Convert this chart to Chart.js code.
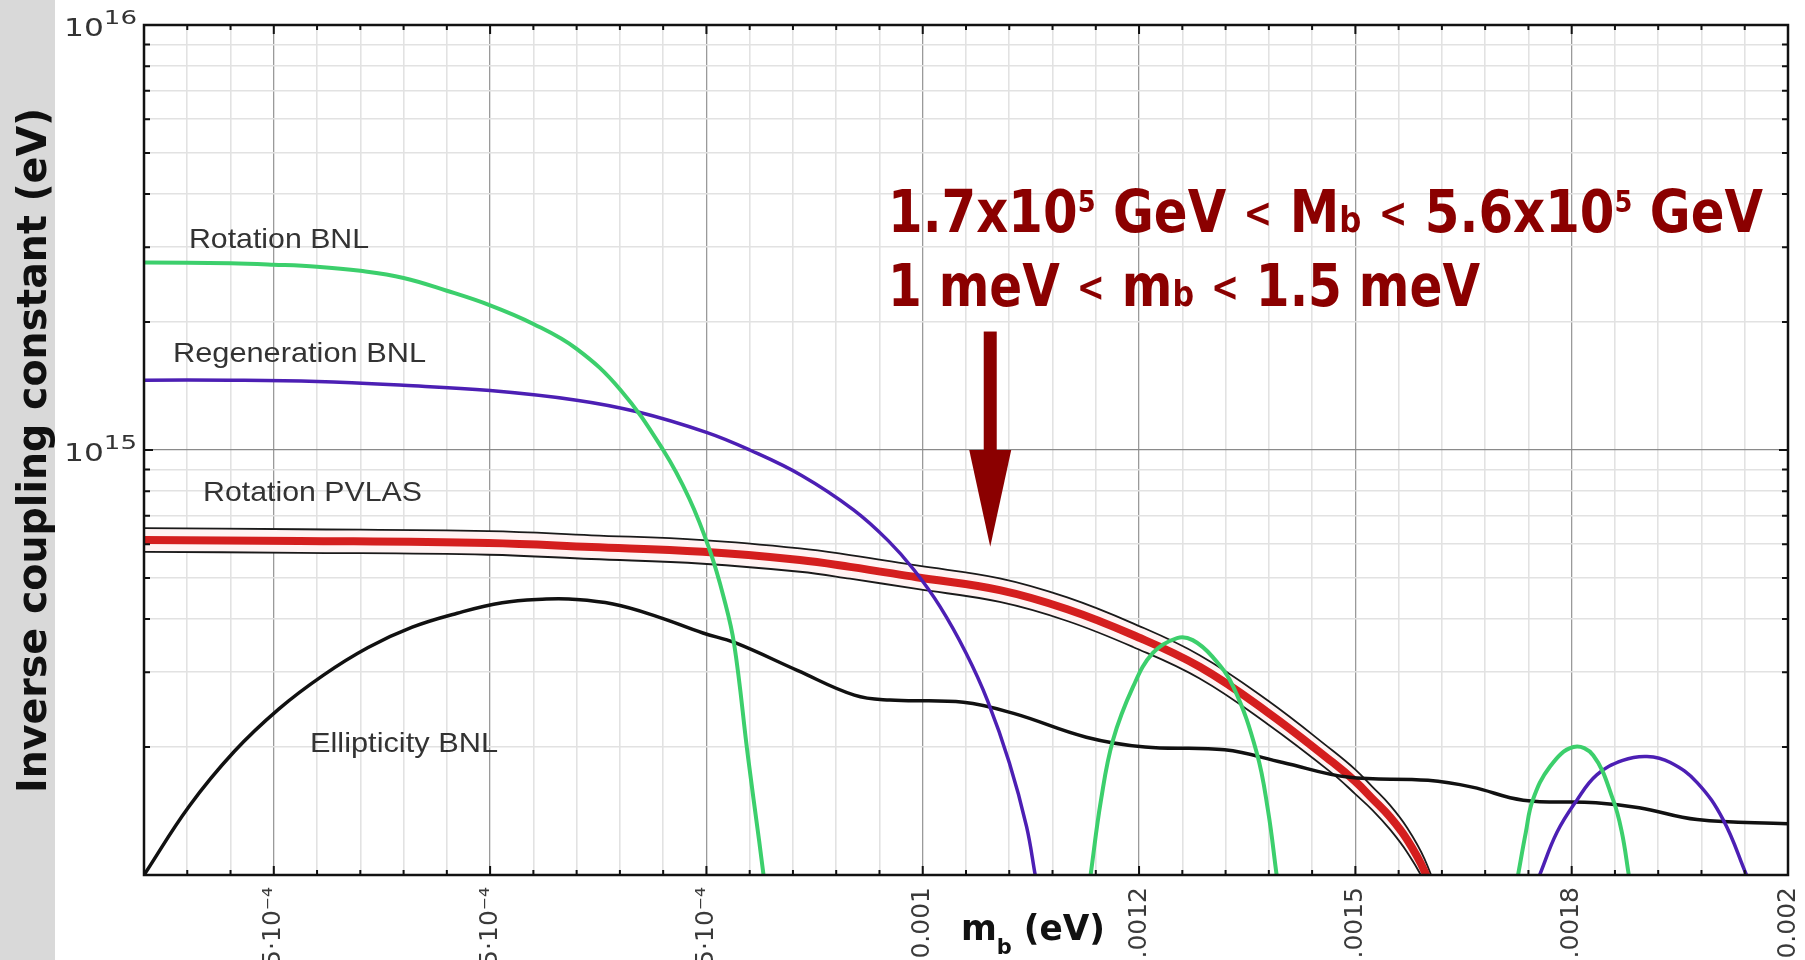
<!DOCTYPE html>
<html lang="en">
<head>
<meta charset="utf-8">
<title>Inverse coupling constant vs m_b</title>
<script src="https://cdn.jsdelivr.net/npm/chart.js@4.4.1/dist/chart.umd.min.js"></script>
<style>
    html, body { margin: 0; padding: 0; background: #ffffff; overflow: hidden; }
    #khungBieuDo { position: relative; width: 1805px; height: 960px; }
</style>
</head>
<body>
<div id="khungBieuDo"><canvas id="bieuDo"></canvas></div>
<script>
// truc x: m_b (eV) tuyen tinh, truc y: Inverse coupling constant (eV) log
const xMin = 0.0001;
const xMax = 0.002;
const yMin = 1e14;
const yMax = 1e16;

const xTickValues = [0.00025, 0.0005, 0.00075, 0.001, 0.00125, 0.0015, 0.00175, 0.002];
const xTickLabels = ['2.5·10⁻⁴', '5·10⁻⁴', '7.5·10⁻⁴', '0.001', '0.0012', '0.0015', '0.0018', '0.002'];
const yTickValues = [1e15, 1e16];
const yTickExponents = ['15', '16'];

const seriesNames = ['Rotation BNL', 'Regeneration BNL', 'Rotation PVLAS', 'Ellipticity BNL'];

// Rotation BNL (xanh la), 3 thuy, null = ngat net
const rotBnlX = [0.0001, 0.0002, 0.00025, 0.0003, 0.00035, 0.0004, 0.00045, 0.0005, 0.00055, 0.0006,
    0.00065, 0.0007, 0.00073, 0.000754, 0.00077, 0.000782, 0.000798, 0.000811, 0.000816,
    0.001,
    0.001194, 0.001206, 0.00122, 0.001243, 0.001266, 0.001294, 0.001312, 0.001335, 0.001359, 0.001386, 0.001399, 0.001409,
    0.00155,
    0.001688, 0.001697, 0.001705, 0.001725, 0.001752, 0.001775, 0.001798, 0.001808, 0.001816];
const rotBnlY = [2.76e15, 2.75e15, 2.73e15, 2.70e15, 2.64e15, 2.54e15, 2.37e15, 2.19e15, 1.98e15, 1.73e15,
    1.39e15, 1.00e15, 7.7e14, 5.8e14, 4.5e14, 3.5e14, 1.9e14, 1.2e14, 1.0e14,
    null,
    1.0e14, 1.50e14, 2.08e14, 2.77e14, 3.33e14, 3.61e14, 3.57e14, 3.26e14, 2.77e14, 1.94e14, 1.42e14, 1.0e14,
    null,
    1.0e14, 1.26e14, 1.50e14, 1.80e14, 2.0e14, 1.91e14, 1.50e14, 1.26e14, 1.0e14];

// Regeneration BNL (tim)
const regenX = [0.0001, 0.0002, 0.0003, 0.0004, 0.0005, 0.0006, 0.00067, 0.00075, 0.0008, 0.00086,
    0.00092, 0.00096, 0.00099, 0.00102, 0.00105, 0.001075, 0.0011, 0.00112, 0.00113,
    0.0014,
    0.001713, 0.001733, 0.001756, 0.001779, 0.001809, 0.001837, 0.001864, 0.001895, 0.001925, 0.001952];
const regenY = [1.46e15, 1.46e15, 1.45e15, 1.42e15, 1.38e15, 1.31e15, 1.23e15, 1.10e15, 1.00e15, 8.71e14,
    7.23e14, 6.12e14, 5.22e14, 4.28e14, 3.33e14, 2.57e14, 1.84e14, 1.30e14, 1.0e14,
    null,
    1.0e14, 1.26e14, 1.50e14, 1.72e14, 1.86e14, 1.90e14, 1.84e14, 1.65e14, 1.35e14, 1.0e14];

// Ellipticity BNL (den)
const ellipX = [0.0001, 0.000152, 0.000204, 0.000256, 0.000307, 0.000359, 0.00041, 0.000462, 0.000514, 0.000565,
    0.000591, 0.000642, 0.000694, 0.000746, 0.000783, 0.000855, 0.000921, 0.000962, 0.001047, 0.001105,
    0.001189, 0.001257, 0.001349, 0.001416, 0.001491, 0.001584, 0.001635, 0.001694, 0.001778, 0.001828,
    0.001895, 0.002];
const ellipY = [1.0e14, 1.45e14, 1.95e14, 2.46e14, 2.95e14, 3.43e14, 3.83e14, 4.13e14, 4.37e14, 4.46e14,
    4.46e14, 4.34e14, 4.05e14, 3.71e14, 3.52e14, 3.03e14, 2.65e14, 2.58e14, 2.55e14, 2.40e14,
    2.11e14, 2.00e14, 1.97e14, 1.84e14, 1.70e14, 1.67e14, 1.61e14, 1.50e14, 1.48e14, 1.44e14,
    1.35e14, 1.32e14];

// Rotation PVLAS (do) va hai bien sai so
const pvlasX = [0.0001, 0.00028, 0.000498, 0.000617, 0.000746, 0.000858, 0.000916, 0.000993, 0.001089, 0.001167,
    0.001243, 0.00132, 0.001398, 0.001474, 0.0015, 0.00152, 0.00154, 0.00156, 0.00158, 0.0016];
const pvlasY = [6.14e14, 6.11e14, 6.04e14, 5.91e14, 5.76e14, 5.51e14, 5.31e14, 5.02e14, 4.68e14, 4.22e14,
    3.67e14, 3.09e14, 2.42e14, 1.84e14, 1.66e14, 1.51e14, 1.37e14, 1.21e14, 1.02e14, 0.79e14];
const pvlasTren = [6.55e14, 6.51e14, 6.44e14, 6.30e14, 6.14e14, 5.87e14, 5.66e14, 5.35e14, 4.99e14, 4.50e14,
    3.91e14, 3.29e14, 2.58e14, 1.96e14, 1.77e14, 1.61e14, 1.46e14, 1.29e14, 1.09e14, 0.85e14];
const pvlasDuoi = [5.76e14, 5.73e14, 5.67e14, 5.54e14, 5.40e14, 5.17e14, 4.98e14, 4.71e14, 4.39e14, 3.96e14,
    3.44e14, 2.90e14, 2.27e14, 1.73e14, 1.55e14, 1.42e14, 1.28e14, 1.13e14, 0.96e14, 0.75e14];

// mui ten (toa do du lieu)
const arrowX = 0.001078;
const arrowTopY = 1.9e15;
const arrowBaseY = 1.0e15;
const arrowTipY = 5.92e14;

// vi tri chu (px): trai, baseline, do rong
const nhanDuong = [
    { text: seriesNames[0], x: 189, y: 248, w: 180 },
    { text: seriesNames[1], x: 173, y: 362, w: 253 },
    { text: seriesNames[2], x: 203, y: 501, w: 219 },
    { text: seriesNames[3], x: 310, y: 752, w: 188 }
];

const luoiX = [];
for (let i = 0; i <= 38; i++) luoiX.push(+(0.0001 + i * 0.00005).toFixed(6));
const luoiY = [];
[14, 15].forEach(e => { for (let m = 1; m <= 9; m++) luoiY.push(m * Math.pow(10, e)); });
luoiY.push(1e16);

function laMocChinhX(v) {
    const k = v / 0.00025;
    return Math.abs(k - Math.round(k)) < 1e-6;
}
function laMocChinhY(v) {
    const k = Math.log10(v);
    return Math.abs(k - Math.round(k)) < 1e-6;
}
function nhanTrucX(v) {
    const i = xTickValues.findIndex(t => Math.abs(t - v) < 1e-9);
    return i >= 0 ? xTickLabels[i] : '';
}
function ghepDiem(xs, ys) {
    return xs.map((x, i) => ({ x: x, y: ys[i] }));
}

// ve chu nhieu doan (chi so tren/duoi), co gian ngang cho dung do rong
function veChuGhep(ctx, parts, x, baseline, width, color) {
    ctx.save();
    let tong = 0;
    parts.forEach(p => { ctx.font = p.font; p.w = ctx.measureText(p.text).width; tong += p.w; });
    ctx.translate(x, baseline);
    ctx.scale(width / tong, 1);
    ctx.fillStyle = color;
    ctx.textAlign = 'left';
    ctx.textBaseline = 'alphabetic';
    let cx = 0;
    parts.forEach(p => {
        ctx.font = p.font;
        ctx.fillText(p.text, cx, p.dy || 0);
        cx += p.w;
    });
    ctx.restore();
}

const fontDo = "'DejaVu Sans', sans-serif";
const fontHep = "'Liberation Sans Narrow', 'DejaVu Sans Condensed', 'Liberation Sans', sans-serif";

const veThem = {
    id: 'veThem',
    beforeDraw(chart) {
        const ctx = chart.ctx;
        ctx.save();
        ctx.fillStyle = '#ffffff';
        ctx.fillRect(0, 0, chart.width, chart.height);
        ctx.fillStyle = '#d9d9d9';
        ctx.fillRect(0, 0, 55, chart.height);
        ctx.restore();
    },
    afterDraw(chart) {
        const ctx = chart.ctx;
        const a = chart.chartArea;
        const sx = chart.scales.x;
        const sy = chart.scales.y;

        // vach chia huong vao trong tren 4 canh + khung
        ctx.save();
        ctx.strokeStyle = '#111';
        ctx.lineWidth = 2;
        sx.ticks.forEach(t => {
            const px = sx.getPixelForValue(t.value);
            const len = laMocChinhX(t.value) ? 9 : 5;
            ctx.beginPath();
            ctx.moveTo(px, a.bottom); ctx.lineTo(px, a.bottom - len);
            ctx.moveTo(px, a.top); ctx.lineTo(px, a.top + len);
            ctx.stroke();
        });
        sy.ticks.forEach(t => {
            const py = sy.getPixelForValue(t.value);
            const len = laMocChinhY(t.value) ? 9 : 6;
            ctx.beginPath();
            ctx.moveTo(a.left, py); ctx.lineTo(a.left + len, py);
            ctx.moveTo(a.right, py); ctx.lineTo(a.right - len, py);
            ctx.stroke();
        });
        ctx.lineWidth = 2.5;
        ctx.strokeRect(a.left, a.top, a.right - a.left, a.bottom - a.top);
        ctx.restore();

        // nhan truc y: 10^15, 10^16
        yTickValues.forEach((v, i) => {
            const py = sy.getPixelForValue(v);
            veChuGhep(ctx, [
                { text: '10', font: '24px ' + fontDo },
                { text: yTickExponents[i], font: '20px ' + fontDo, dy: -12 }
            ], 64, py + 11, 73, '#333');
        });

        // ten cac duong
        nhanDuong.forEach(n => {
            veChuGhep(ctx, [{ text: n.text, font: "28px 'Liberation Sans', sans-serif" }], n.x, n.y, n.w, '#333');
        });

        // ten truc y
        ctx.save();
        ctx.translate(46, 451);
        ctx.rotate(-Math.PI / 2);
        veChuGhep(ctx, [{ text: 'Inverse coupling constant (eV)', font: 'bold 40px ' + fontHep }], -342, 0, 685, '#111');
        ctx.restore();

        // ten truc x
        veChuGhep(ctx, [
            { text: 'm', font: 'bold 36px ' + fontHep },
            { text: 'b', font: 'bold 22px ' + fontHep, dy: 14 },
            { text: ' (eV)', font: 'bold 36px ' + fontHep }
        ], 961, 940, 144, '#111');

        // chu thich mau do
        const lon = 'bold 58px ' + fontDo;
        const tren = 'bold 30px ' + fontDo;
        const nho = 'bold 36px ' + fontDo;
        const be = 'bold 40px ' + fontDo;
        veChuGhep(ctx, [
            { text: '1.7x10', font: lon }, { text: '5', font: tren, dy: -20 },
            { text: ' GeV ', font: lon }, { text: '<', font: be, dy: -5 },
            { text: ' M', font: lon }, { text: 'b', font: nho },
            { text: ' ', font: lon }, { text: '<', font: be, dy: -5 },
            { text: ' 5.6x10', font: lon }, { text: '5', font: tren, dy: -20 },
            { text: ' GeV', font: lon }
        ], 888, 232, 875, '#8b0000');
        veChuGhep(ctx, [
            { text: '1 meV ', font: lon }, { text: '<', font: be, dy: -5 },
            { text: ' m', font: lon }, { text: 'b', font: nho },
            { text: ' ', font: lon }, { text: '<', font: be, dy: -5 },
            { text: ' 1.5 meV', font: lon }
        ], 888, 306, 592, '#8b0000');

        // mui ten
        const ax = sx.getPixelForValue(arrowX);
        const yTop = sy.getPixelForValue(arrowTopY);
        const yBase = sy.getPixelForValue(arrowBaseY);
        const yTip = sy.getPixelForValue(arrowTipY);
        ctx.save();
        ctx.fillStyle = '#8b0000';
        ctx.fillRect(ax - 6.5, yTop, 13, yBase - yTop + 1);
        ctx.beginPath();
        ctx.moveTo(ax - 21, yBase);
        ctx.lineTo(ax + 21, yBase);
        ctx.lineTo(ax, yTip);
        ctx.closePath();
        ctx.fill();
        ctx.restore();
    }
};

let BieuDo = null;

function TaoBieuDo() {
    const ctx = document.getElementById('bieuDo').getContext('2d');
    const chung = { pointRadius: 0, tension: 0.4, capBezierPoints: false, clip: 0, spanGaps: false, fill: false };

    BieuDo = new Chart(ctx, {
        type: 'line',
        data: {
            datasets: [
                { ...chung, label: seriesNames[0], data: ghepDiem(rotBnlX, rotBnlY), borderColor: '#3ccf6c', borderWidth: 4 },
                { ...chung, label: seriesNames[1], data: ghepDiem(regenX, regenY), borderColor: '#4c1fb4', borderWidth: 3.5 },
                { ...chung, label: seriesNames[3], data: ghepDiem(ellipX, ellipY), borderColor: '#111111', borderWidth: 3.5 },
                { ...chung, label: seriesNames[2], data: ghepDiem(pvlasX, pvlasY), borderColor: '#d41e1e', borderWidth: 8 },
                { ...chung, label: 'PVLAS +', data: ghepDiem(pvlasX, pvlasTren), borderColor: '#1a1a1a', borderWidth: 1.8 },
                { ...chung, label: 'PVLAS -', data: ghepDiem(pvlasX, pvlasDuoi), borderColor: '#1a1a1a', borderWidth: 1.8,
                  fill: '-1', backgroundColor: '#fff3f3' }
            ]
        },
        options: {
            responsive: true,
            maintainAspectRatio: false,
            animation: false,
            events: [],
            layout: { padding: { left: 0, right: 17, top: 25, bottom: 0 } },
            plugins: { legend: { display: false }, tooltip: { enabled: false } },
            scales: {
                x: {
                    type: 'linear',
                    min: xMin,
                    max: xMax,
                    afterBuildTicks: (scale) => { scale.ticks = luoiX.map(v => ({ value: v })); },
                    afterFit: (scale) => { scale.height = 85; scale.paddingLeft = 0; scale.paddingRight = 0; },
                    ticks: {
                        autoSkip: false,
                        minRotation: 90,
                        maxRotation: 90,
                        padding: 12,
                        color: '#3a3a3a',
                        font: { family: "'DejaVu Sans', sans-serif", size: 25 },
                        callback: (v) => nhanTrucX(v)
                    },
                    grid: {
                        drawTicks: false,
                        color: (c) => laMocChinhX(c.tick.value) ? '#9a9a9a' : '#e2e2e2',
                        lineWidth: (c) => laMocChinhX(c.tick.value) ? 1.3 : 1.6
                    },
                    border: { display: false }
                },
                y: {
                    type: 'logarithmic',
                    min: yMin,
                    max: yMax,
                    afterBuildTicks: (scale) => { scale.ticks = luoiY.map(v => ({ value: v })); },
                    afterFit: (scale) => { scale.width = 144; scale.paddingTop = 0; scale.paddingBottom = 0; },
                    ticks: { display: false },
                    grid: {
                        drawTicks: false,
                        color: (c) => laMocChinhY(c.tick.value) ? '#8a8a8a' : '#e2e2e2',
                        lineWidth: (c) => laMocChinhY(c.tick.value) ? 1.3 : 1.6
                    },
                    border: { display: false }
                }
            }
        },
        plugins: [veThem]
    });
}

TaoBieuDo();
</script>
</body>
</html>
